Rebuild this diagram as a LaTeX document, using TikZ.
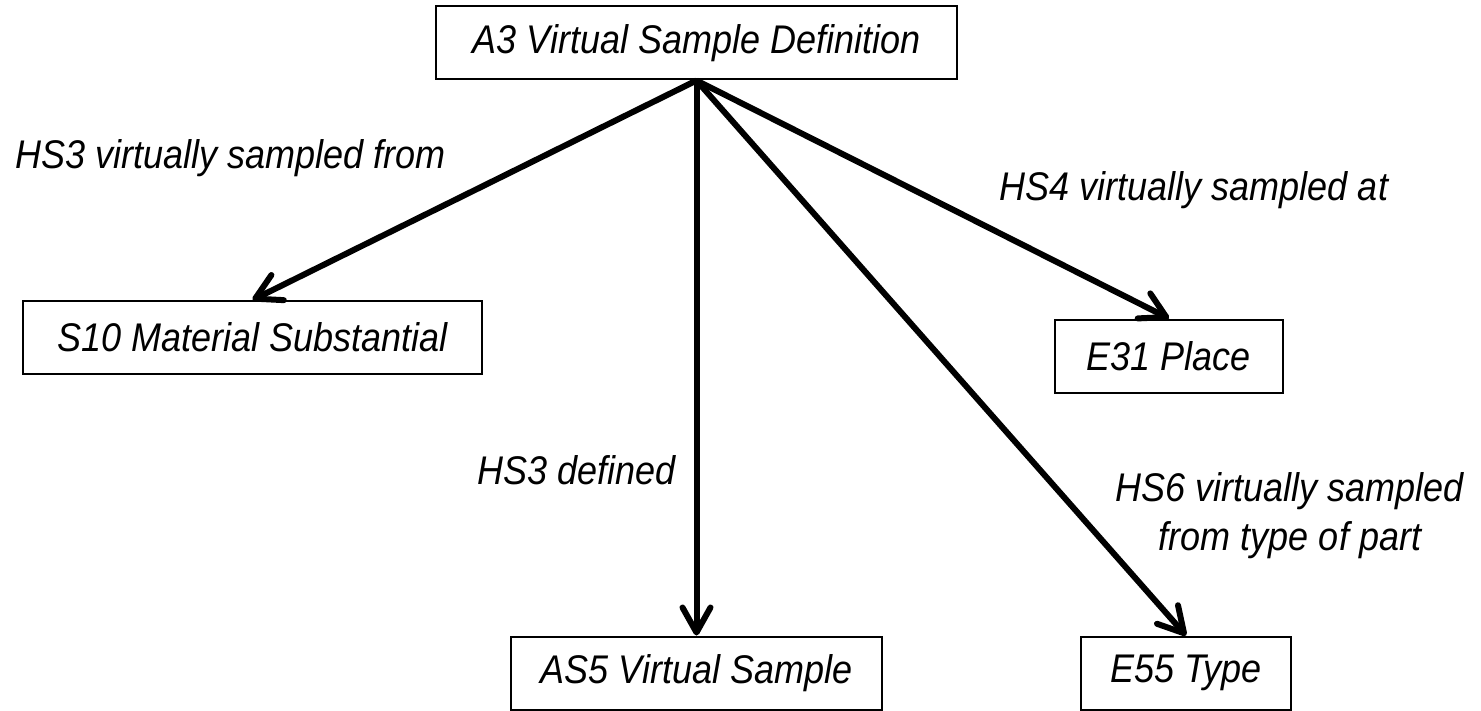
\documentclass[tikz,border=0pt]{standalone}
\usepackage{fontspec}
\setmainfont{Liberation Sans}[FakeStretch=0.9]
\usetikzlibrary{arrows.meta}

\begin{document}
\begin{tikzpicture}[x=0.5pt,y=-0.5pt,
  every node/.style={font=\fontsize{20}{24.5}\selectfont\itshape},
  classbox/.style={draw,line width=1pt,inner sep=0pt,minimum height=36.5pt},
  property/.style={line width=3pt,-{Straight Barb[length=12.5pt,width=14pt,round]}}]
\useasboundingbox (0,0) rectangle (1481,711);

%Classes
\node[classbox,minimum width=260.5pt] (def) at (696.5,43) {A3 Virtual Sample Definition};
\node[classbox,minimum width=229.5pt] (subst) at (252.5,337.5) {S10 Material Substantial};
\node[classbox,minimum width=114pt] (place) at (1169,356) {E31 Place};
\node[classbox,minimum width=185.5pt] (sample) at (696.5,673) {AS5 Virtual Sample};
\node[classbox,minimum width=105pt] (type) at (1186,673) {E55 Type};

% Properties
\draw[property] (def.south) -- (subst.north);
\draw[property] (def.south) -- (sample.north);
\draw[property] (def.south) -- (place.north);
\draw[property] (def.south) -- (type.north);

% Property labels
\node (hsfrom) at (231,158) {HS3 virtually sampled from};
\node (hsat) at (1194,190) {HS4 virtually sampled at};
\node (hsdef) at (577,470) {HS3 defined};
\node[align=center] (hstype) at (1290,516) {HS6 virtually sampled\\from type of part};

\end{tikzpicture}
\end{document}
